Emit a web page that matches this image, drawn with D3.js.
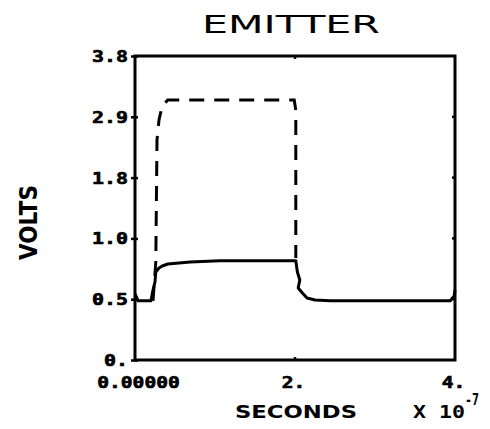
<!DOCTYPE html>
<html>
<head>
<meta charset="utf-8">
<script src="https://cdn.jsdelivr.net/npm/d3@7"></script>
<style>
  html, body { margin: 0; padding: 0; background: #fff; }
  svg { display: block; }
  text { fill: #000; }
</style>
</head>
<body>
<script>
// Emitter voltage transient, time in units of 1e-7 s
const solidTime = [0, 0.04, 0.2, 0.225, 0.25, 0.26, 0.3, 0.34, 0.41, 0.69, 1.06, 2.01, 2.03, 2.06, 2.04, 2.09, 2.15, 2.25, 2.44, 3.94, 3.99, 4.0];
const solidVolts = [0.825, 0.74, 0.74, 0.875, 0.975, 1.10, 1.15, 1.175, 1.2, 1.225, 1.24, 1.24, 1.10, 1.0, 0.9, 0.84, 0.775, 0.75, 0.74, 0.74, 0.8, 0.875];

const dashTime = [0.225, 0.26, 0.275, 0.3, 0.34, 0.41, 1.99, 2.01, 2.01];
const dashVolts = [0.74, 1.225, 2.75, 3.0, 3.175, 3.25, 3.25, 3.125, 1.275];

// Axis ticks and their printed labels
const yTickValues = [0, 0.76, 1.52, 2.28, 3.04, 3.8];
const yTickLabels = ["0.", "0.5", "1.0", "1.8", "2.9", "3.8"];
const xTickValues = [0, 2, 4];
const xTickLabels = ["0.00000", "2.", "4."];

const W = 490, H = 429;
const plot = { left: 135, right: 455, top: 56, bottom: 360 };

const svg = d3.select("body").append("svg").attr("width", W).attr("height", H);

const x = d3.scaleLinear().domain([0, 4]).range([plot.left, plot.right]);
const y = d3.scaleLinear().domain([0, 3.8]).range([plot.bottom, plot.top]);

// Frame
svg.append("rect")
  .attr("x", plot.left).attr("y", plot.top)
  .attr("width", plot.right - plot.left).attr("height", plot.bottom - plot.top)
  .attr("fill", "none").attr("stroke", "#000").attr("stroke-width", 3);

// Left axis ticks and labels
const yAxis = d3.axisLeft(y).tickValues(yTickValues).tickSize(5)
  .tickFormat((d, i) => yTickLabels[i]);
const gy = svg.append("g").attr("transform", `translate(${plot.left},0)`).call(yAxis);
gy.select(".domain").remove();
gy.selectAll(".tick line").attr("stroke", "#000").attr("stroke-width", 2.5).attr("x2", 3).attr("x1", -4);
gy.selectAll(".tick text")
  .attr("x", -7).attr("dy", "0.36em")
  .style("font-family", "'DejaVu Sans Mono', monospace")
  .style("font-weight", "bold").style("font-size", "15px")
  .style("stroke", "#000").style("stroke-width", 0.6)
  .attr("textLength", (d, i) => yTickLabels[i].length * 12)
  .attr("lengthAdjust", "spacingAndGlyphs");

// Inner ticks on the right and top edges
svg.append("g").selectAll("line").data(yTickValues.slice(1, -1)).join("line")
  .attr("x1", plot.right - 3).attr("x2", plot.right)
  .attr("y1", d => y(d)).attr("y2", d => y(d))
  .attr("stroke", "#000").attr("stroke-width", 2.5);
svg.append("g").selectAll("line").data(xTickValues.slice(1, -1)).join("line")
  .attr("x1", d => x(d)).attr("x2", d => x(d))
  .attr("y1", plot.top).attr("y2", plot.top + 3)
  .attr("stroke", "#000").attr("stroke-width", 2.5);

// Bottom axis
const xAxis = d3.axisBottom(x).tickValues(xTickValues).tickSize(0)
  .tickFormat((d, i) => xTickLabels[i]);
const gx = svg.append("g").attr("transform", `translate(0,${plot.bottom})`).call(xAxis);
gx.select(".domain").remove();
gx.selectAll(".tick line").remove();
gx.selectAll(".tick text")
  .attr("y", 28).attr("dy", 0)
  .attr("dx", (d, i) => i === 0 ? 3 : -2)
  .style("font-family", "'DejaVu Sans Mono', monospace")
  .style("font-weight", "bold").style("font-size", "15px")
  .style("stroke", "#000").style("stroke-width", 0.6)
  .attr("textLength", (d, i) => xTickLabels[i].length * 11.8)
  .attr("lengthAdjust", "spacingAndGlyphs");
svg.append("g").selectAll("line").data(xTickValues.slice(1, -1)).join("line")
  .attr("x1", d => x(d)).attr("x2", d => x(d))
  .attr("y1", plot.bottom - 3).attr("y2", plot.bottom)
  .attr("stroke", "#000").attr("stroke-width", 2.5);

// Curves
const line = d3.line().x(d => x(d[0])).y(d => y(d[1]));
svg.append("path")
  .datum(dashTime.map((t, i) => [t, dashVolts[i]]))
  .attr("d", line).attr("fill", "none").attr("stroke", "#000")
  .attr("stroke-width", 3).attr("stroke-dasharray", "15 10");
svg.append("path")
  .datum(solidTime.map((t, i) => [t, solidVolts[i]]))
  .attr("d", line).attr("fill", "none").attr("stroke", "#000")
  .attr("stroke-width", 3).attr("stroke-linejoin", "round");

// Title
svg.append("text")
  .attr("x", 202).attr("y", 33)
  .style("font-family", "'DejaVu Sans', sans-serif")
  .style("font-size", "25px")
  .attr("textLength", 178).attr("lengthAdjust", "spacingAndGlyphs")
  .text("EMITTER");

// Axis titles
svg.append("text")
  .attr("transform", "translate(37,260) rotate(-90)")
  .style("font-family", "'DejaVu Sans', sans-serif")
  .style("font-weight", "bold").style("font-size", "24px")
  .attr("textLength", 75).attr("lengthAdjust", "spacingAndGlyphs")
  .text("VOLTS");

svg.append("text")
  .attr("x", 235).attr("y", 418)
  .style("font-family", "'DejaVu Sans', sans-serif")
  .style("font-weight", "bold").style("font-size", "17px")
  .attr("textLength", 122).attr("lengthAdjust", "spacingAndGlyphs")
  .text("SECONDS");

// Scale multiplier
svg.append("text")
  .attr("x", 413).attr("y", 418)
  .style("font-family", "'DejaVu Sans Mono', monospace")
  .style("font-weight", "bold").style("font-size", "17px")
  .attr("textLength", 52).attr("lengthAdjust", "spacingAndGlyphs")
  .text("X 10");
svg.append("text")
  .attr("x", 465).attr("y", 405)
  .style("font-family", "'DejaVu Sans Mono', monospace")
  .style("font-weight", "bold").style("font-size", "15px")
  .attr("textLength", 14).attr("lengthAdjust", "spacingAndGlyphs")
  .text("-7");
</script>
</body>
</html>
